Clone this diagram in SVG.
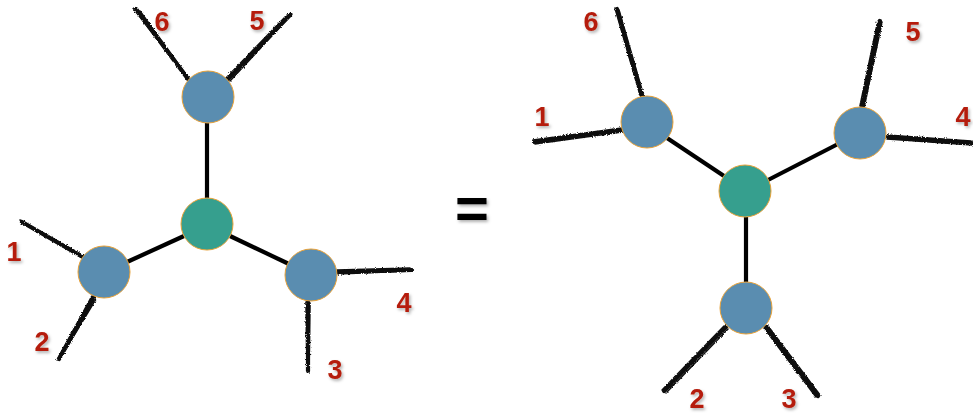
<svg xmlns="http://www.w3.org/2000/svg" width="973" height="413" viewBox="0 0 973 413">
<defs>
<filter id="rough" x="-10%" y="-10%" width="120%" height="120%">
<feTurbulence type="fractalNoise" baseFrequency="0.9" numOctaves="2" seed="3" result="n"/>
<feDisplacementMap in="SourceGraphic" in2="n" scale="2.8" xChannelSelector="R" yChannelSelector="G"/>
</filter>
<filter id="shadow" x="-30%" y="-30%" width="160%" height="160%">
<feDropShadow dx="1.5" dy="2" stdDeviation="1.5" flood-color="#000" flood-opacity="0.3"/>
</filter>
</defs>
<style>
.edge{stroke:#000;stroke-width:4.2;fill:none}
.leg{stroke:#111;fill:none;stroke-linecap:round}
.leg .a{stroke-width:4.2}
.leg .b{stroke-width:1.6}
.blue{fill:#5a8db0;stroke:#e8a23a;stroke-width:1}
.green{fill:#369f8e;stroke:#e8a23a;stroke-width:1}
.lbl{font-family:"Liberation Sans",Arial,sans-serif;font-weight:bold;font-size:27px;fill:#b51e0a;text-anchor:middle;filter:url(#shadow)}
.eq{font-family:"Liberation Sans",Arial,sans-serif;font-weight:bold;font-size:58px;fill:#000;text-anchor:middle;filter:url(#shadow)}
</style>
<g id="connectors">
<g id="edges-left">
<line class="edge" x1="207" y1="123" x2="207" y2="198"/>
<line class="edge" x1="184" y1="236" x2="127" y2="262"/>
<line class="edge" x1="230" y1="236" x2="289" y2="264"/>
</g>
<g id="edges-right">
<line class="edge" x1="667" y1="138" x2="724" y2="176"/>
<line class="edge" x1="838" y1="144" x2="768" y2="180"/>
<line class="edge" x1="746" y1="217" x2="746" y2="282"/>
</g>
<g id="legs" class="leg" filter="url(#rough)">
<g><line class="a" x1="188" y1="79" x2="136" y2="9"/><line class="b" x1="187" y1="78" x2="133" y2="8"/><line class="b" x1="190" y1="80" x2="140" y2="11"/></g>
<g><line class="a" x1="228" y1="79" x2="290" y2="15"/><line class="b" x1="226" y1="78" x2="287" y2="15"/><line class="b" x1="230" y1="81" x2="292" y2="14"/></g>
<g><line class="a" x1="83" y1="257" x2="22" y2="222"/><line class="b" x1="82" y1="255" x2="20" y2="220"/><line class="b" x1="84" y1="259" x2="24" y2="224"/></g>
<g><line class="a" x1="94" y1="297" x2="59" y2="359"/><line class="b" x1="92" y1="296" x2="57" y2="360"/><line class="b" x1="96" y1="299" x2="61" y2="357"/></g>
<g><line class="a" x1="337" y1="272" x2="412" y2="270"/><line class="b" x1="337" y1="270" x2="410" y2="268"/><line class="b" x1="338" y1="274" x2="413" y2="271"/></g>
<g><line class="a" x1="308" y1="302" x2="308" y2="371"/><line class="b" x1="306" y1="302" x2="307" y2="370"/><line class="b" x1="310" y1="303" x2="309" y2="372"/></g>
<g><line class="a" x1="642" y1="96" x2="617" y2="9"/><line class="b" x1="640" y1="95" x2="615" y2="8"/><line class="b" x1="644" y1="97" x2="619" y2="10"/></g>
<g><line class="a" x1="622" y1="130" x2="534" y2="142"/><line class="b" x1="622" y1="128" x2="533" y2="140"/><line class="b" x1="622" y1="132" x2="535" y2="144"/></g>
<g><line class="a" x1="862" y1="107" x2="880" y2="21"/><line class="b" x1="860" y1="106" x2="878" y2="20"/><line class="b" x1="864" y1="108" x2="882" y2="22"/></g>
<g><line class="a" x1="887" y1="137" x2="972" y2="143"/><line class="b" x1="887" y1="135" x2="971" y2="141"/><line class="b" x1="887" y1="139" x2="972" y2="145"/></g>
<g><line class="a" x1="726" y1="327" x2="664" y2="391"/><line class="b" x1="724" y1="326" x2="662" y2="390"/><line class="b" x1="728" y1="329" x2="666" y2="393"/></g>
<g><line class="a" x1="766" y1="327" x2="818" y2="396"/><line class="b" x1="764" y1="328" x2="816" y2="397"/><line class="b" x1="768" y1="326" x2="820" y2="395"/></g>
</g>
</g>
<g id="left-top"><circle class="blue" cx="208" cy="97" r="26"/></g>
<g id="left-center"><circle class="green" cx="207" cy="224" r="26"/></g>
<g id="left-left"><circle class="blue" cx="104" cy="272" r="26"/></g>
<g id="left-right"><circle class="blue" cx="311" cy="275" r="26"/></g>
<g id="right-topleft"><circle class="blue" cx="647" cy="122" r="26"/></g>
<g id="right-right"><circle class="blue" cx="860" cy="133" r="26"/></g>
<g id="right-center"><circle class="green" cx="745" cy="191" r="26"/></g>
<g id="right-bottom"><circle class="blue" cx="746" cy="308" r="26"/></g>
<g id="labels">
<text class="lbl" x="162" y="31">6</text>
<text class="lbl" x="257" y="30">5</text>
<text class="lbl" x="14" y="261">1</text>
<text class="lbl" x="42" y="351">2</text>
<text class="lbl" x="335" y="379">3</text>
<text class="lbl" x="404" y="312">4</text>
<text class="lbl" x="591" y="31">6</text>
<text class="lbl" x="542" y="126">1</text>
<text class="lbl" x="913" y="41">5</text>
<text class="lbl" x="963" y="126">4</text>
<text class="lbl" x="697" y="408">2</text>
<text class="lbl" x="789" y="408">3</text>
</g>
<text class="eq" x="472" y="228">=</text>
</svg>
